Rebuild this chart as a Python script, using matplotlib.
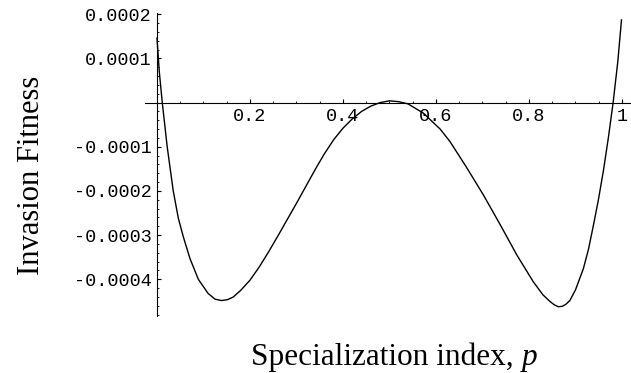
import matplotlib
matplotlib.use("Agg")
import matplotlib.pyplot as plt
from matplotlib.ticker import FixedLocator, MultipleLocator

# Data
p = [0.0, 0.005, 0.0114, 0.022, 0.035, 0.046, 0.057, 0.071, 0.089, 0.110, 0.125,
     0.139, 0.152, 0.164, 0.18, 0.20, 0.22, 0.24, 0.26, 0.28, 0.30, 0.32, 0.34,
     0.36, 0.38, 0.40, 0.42, 0.44, 0.46, 0.48, 0.50, 0.52, 0.54, 0.573, 0.609,
     0.630, 0.652, 0.666, 0.702, 0.738, 0.774, 0.809, 0.83, 0.845, 0.855, 0.863,
     0.872, 0.88, 0.888, 0.90, 0.917, 0.928, 0.938, 0.949, 0.960, 0.971, 0.981,
     0.991, 0.999]
fitness = [0.000146, 0.00007, 0.0, -0.0001, -0.0002, -0.000262, -0.000305,
           -0.000353, -0.0004, -0.000432, -0.000445, -0.000448, -0.000446,
           -0.00044, -0.000425, -0.000402, -0.000372, -0.000338, -0.000302,
           -0.000265, -0.000228, -0.00019, -0.000152, -0.000116, -0.000084,
           -0.000058, -0.000037, -0.00002, -0.000008, 0.0, 0.000004, 0.000002,
           -0.000003, -0.000024, -0.00006, -0.000088, -0.000124, -0.000147,
           -0.000209, -0.000276, -0.000345, -0.000405, -0.000435, -0.00045,
           -0.000458, -0.000462, -0.000461, -0.000456, -0.000448, -0.000424,
           -0.000376, -0.000332, -0.000281, -0.000222, -0.000155, -0.000078, 0.0,
           0.000092, 0.000187]

xticks = [0.2, 0.4, 0.6, 0.8, 1.0]
xticklabels = ["0.2", "0.4", "0.6", "0.8", "1"]
yticks = [0.0002, 0.0001, -0.0001, -0.0002, -0.0003, -0.0004]
yticklabels = ["0.0002", "0.0001", "-0.0001", "-0.0002", "-0.0003", "-0.0004"]

fig = plt.figure(figsize=(6.31, 3.73), dpi=100)
ax = fig.add_axes([0.2296, 0.1528, 0.7708, 0.8115])
ax.plot(p, fitness, color="black", lw=1.0)
ax.set_xlim(-0.026, 1.02)
ax.set_ylim(-0.000483, 0.000202)

ax.spines["left"].set_position(("data", 0))
ax.spines["bottom"].set_position(("data", 0))
ax.spines["right"].set_visible(False)
ax.spines["top"].set_visible(False)
for s in ("left", "bottom"):
    ax.spines[s].set_linewidth(0.8)

ax.xaxis.set_major_locator(FixedLocator(xticks))
ax.set_xticklabels(xticklabels)
ax.xaxis.set_minor_locator(MultipleLocator(0.05))
ax.yaxis.set_major_locator(FixedLocator(yticks))
ax.set_yticklabels(yticklabels)
ax.yaxis.set_minor_locator(MultipleLocator(0.00002))

mono = "Liberation Mono"
ax.tick_params(which="major", direction="in", length=3, width=0.8, pad=4)
ax.tick_params(which="minor", direction="in", length=1.5, width=0.6)
for lab in ax.get_xticklabels() + ax.get_yticklabels():
    lab.set_fontfamily(mono)
    lab.set_fontsize(13.3)

fig.text(0.827, 0.022, "Specialization index, ", family="Liberation Serif",
         fontsize=22.5, ha="right", va="baseline")
fig.text(0.827, 0.022, "p", family="Liberation Serif", style="italic",
         fontsize=22.5, ha="left", va="baseline")
fig.text(0.05, 0.53, "Invasion Fitness", family="Liberation Serif",
         fontsize=22, rotation=90, ha="center", va="center")

fig.savefig("out.png", dpi=100)
